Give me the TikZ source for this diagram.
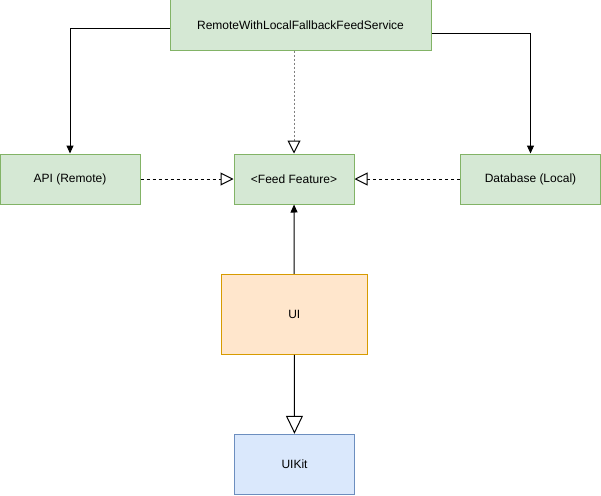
\documentclass[tikz,border=0pt]{standalone}
\usepackage{fontspec}
\setmainfont{Liberation Sans}
\usetikzlibrary{arrows.meta}
\definecolor{greenfill}{HTML}{D5E8D4}
\definecolor{greenline}{HTML}{82B366}
\definecolor{orangefill}{HTML}{FFE6CC}
\definecolor{orangeline}{HTML}{D79B00}
\definecolor{bluefill}{HTML}{DAE8FC}
\definecolor{blueline}{HTML}{6C8EBF}
\begin{document}
\begin{tikzpicture}[x=1pt,y=-1pt,line width=1pt,
    main node/.style={draw,inner sep=0pt,minimum height=50pt,font=\fontsize{12}{14}\selectfont},
    green node/.style={main node,fill=greenfill,draw=greenline},
    orange node/.style={main node,fill=orangefill,draw=orangeline},
    blue node/.style={main node,fill=bluefill,draw=blueline},
    uses/.style={-{Triangle[width=7pt,length=8pt]}},
    implements/.style={dash pattern=on 3pt off 3pt,-{Triangle[open,width=13pt,length=13pt,fill=white,color=black]}}]
        \useasboundingbox (0,0) rectangle (601,495);

        \node[green node, minimum width=261pt] at (300.5, 25) (svc) {RemoteWithLocalFallbackFeedService};
        \node[green node, minimum width=140pt] at (70, 179) (api) {API (Remote)};
        \node[green node, minimum width=120pt] at (294, 179) (feed) {<Feed Feature>};
        \node[green node, minimum width=140pt] at (530.5, 179) (db) {Database (Local)};
        \node[orange node, minimum width=146pt, minimum height=80pt] at (294.3, 314.3) (ui) {UI};
        \node[blue node, minimum width=120pt, minimum height=60pt] at (294.5, 464.3) (uikit) {UIKit};

        \draw[uses] ([yshift=-4pt]svc.west) -| (api.north);
        \draw[uses] ([yshift=-9pt]svc.east) -| (db.north);
        \draw[implements, gray, dash pattern=on 2pt off 2pt] (feed.north |- svc.south) -- (feed.north);
        \draw[implements] (api) -- (feed);
        \draw[implements] (db) -- (feed);
        \draw[uses] (ui) -- (feed);
        \draw[-{Triangle[open,width=17pt,length=18pt,fill=white]}] (ui) -- (uikit);
\end{tikzpicture}
\end{document}
